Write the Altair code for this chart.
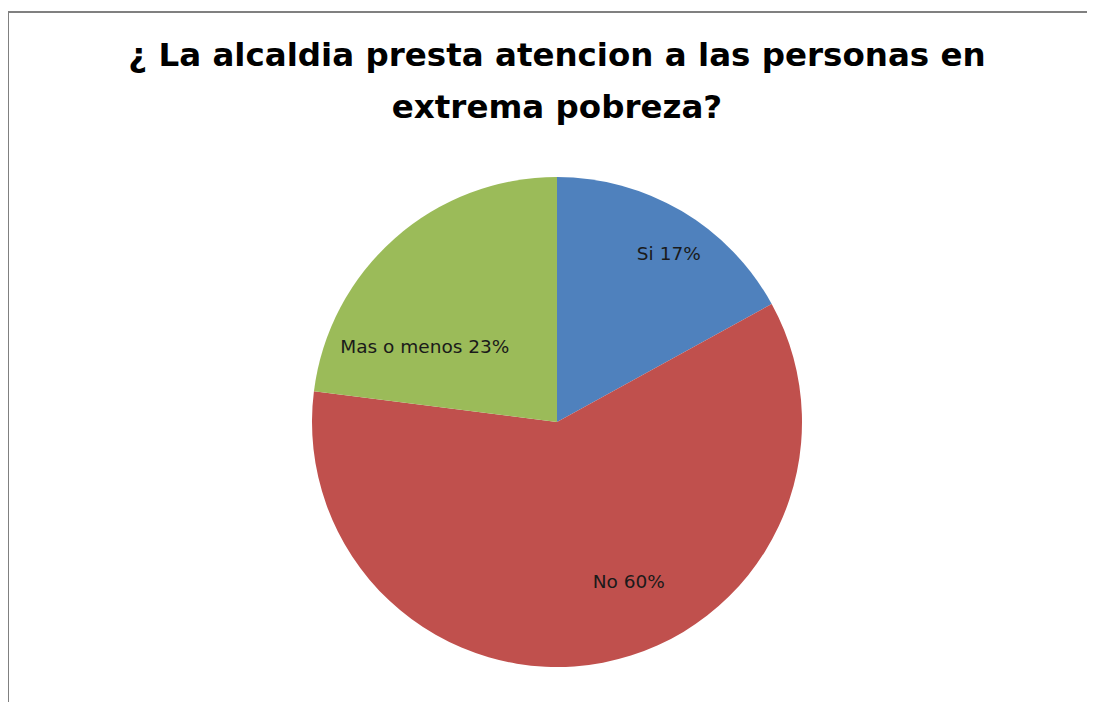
import altair as alt
import pandas as pd

categories = ["Si", "No", "Mas o menos"]
values = [17, 60, 23]
labels = ["Si 17%", "No 60%", "Mas o menos 23%"]
colors = ["#4F81BD", "#C0504D", "#9BBB59"]
title_lines = ["¿ La alcaldia presta atencion a las personas en", "extrema pobreza?"]

df = pd.DataFrame({"cat": categories, "value": values, "label": labels, "order": [0, 1, 2]})

W, H = 1079, 690
CX, CY = 549, 410
R = 245

base = alt.Chart(df)

pie = base.mark_arc(radius=R, stroke=None).encode(
    theta=alt.Theta("value:Q", stack=True),
    order=alt.Order("order:Q"),
    color=alt.Color("cat:N", scale=alt.Scale(domain=categories, range=colors), legend=None),
    x=alt.value(CX),
    y=alt.value(CY),
)

def label_layer(cat, r, dx, dy):
    return (
        base.transform_stack(stack="value", groupby=[], as_=["s0", "s1"], sort=[alt.SortField("order")])
        .transform_calculate(mid="(datum.s0 + datum.s1) / 2")
        .transform_filter(alt.datum.cat == cat)
        .mark_text(radius=r, dx=dx, dy=dy, font="DejaVu Sans", fontSize=18.5, color="#1a1a1a",
                   align="center", baseline="middle")
        .encode(
            theta=alt.Theta("mid:Q", scale=alt.Scale(domain=[0, 100])),
            text="label:N",
            x=alt.value(CX),
            y=alt.value(CY),
        )
    )

lab_si = label_layer("Si", 200, 10, 4)
lab_no = label_layer("No", 170, 40, -7)
lab_mas = label_layer("Mas o menos", 150, -33, 38)

title_df = pd.DataFrame({"t": ["\n".join(title_lines)]})
title = alt.Chart(title_df).mark_text(
    font="DejaVu Sans", fontSize=32.5, fontWeight="bold", color="#000000",
    align="center", baseline="alphabetic", lineBreak="\n", lineHeight=52,
).encode(text="t:N", x=alt.value(CX), y=alt.value(54))

border_df = pd.DataFrame({"k": [0]})
top_rule = alt.Chart(border_df).mark_rule(color="#808080", strokeWidth=2).encode(
    x=alt.value(0), x2=alt.value(W), y=alt.value(0)
)
left_rule = alt.Chart(border_df).mark_rule(color="#808080", strokeWidth=2).encode(
    x=alt.value(0), y=alt.value(0), y2=alt.value(H)
)

chart = alt.layer(top_rule, left_rule, pie, lab_si, lab_no, lab_mas, title).properties(
    width=W,
    height=H,
    padding={"left": 0, "top": 4, "right": 0, "bottom": 0},
    autosize=alt.AutoSizeParams(type="none"),
).configure_view(stroke=None).configure(background="white")

chart.save("out.html", embed_options={"renderer": "svg", "actions": False})
